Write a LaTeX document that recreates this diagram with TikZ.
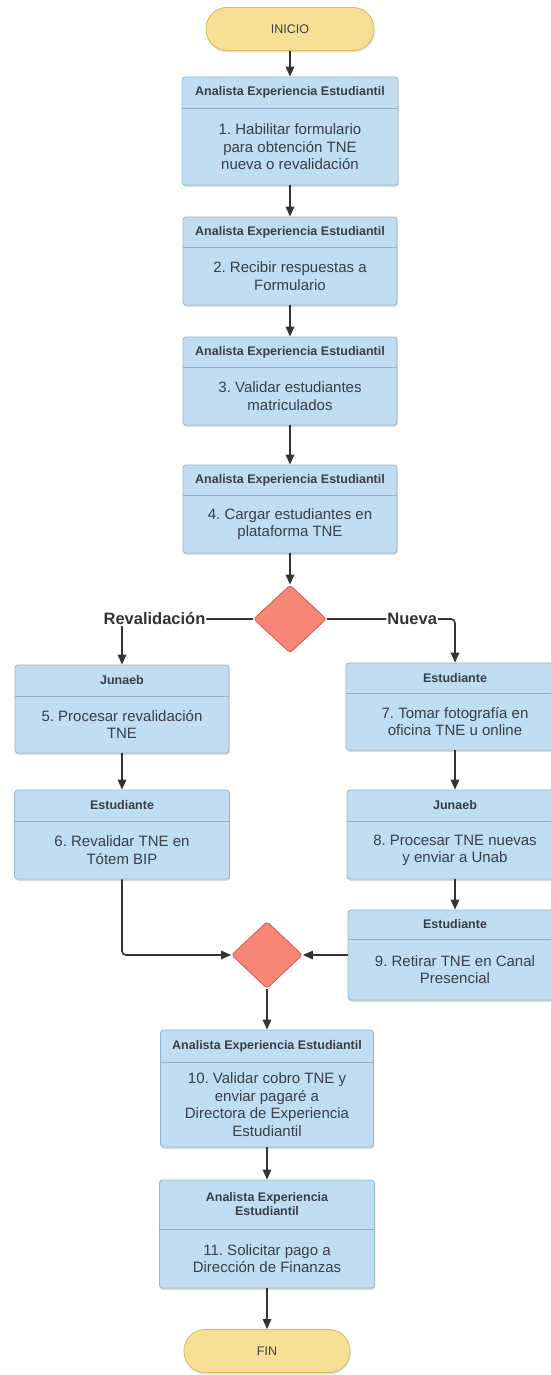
\documentclass[tikz,border=0pt]{standalone}
\usepackage{fontspec}
\setmainfont{Liberation Sans}
\frenchspacing
\usetikzlibrary{arrows.meta,shapes.geometric,shadows,calc}
\definecolor{boxfill}{RGB}{192,221,241}
\definecolor{boxline}{RGB}{150,182,208}
\definecolor{sepc}{RGB}{140,178,208}
\definecolor{decfill}{RGB}{248,134,118}
\definecolor{decline}{RGB}{205,92,82}
\definecolor{pillfill}{RGB}{247,224,150}
\definecolor{pillline}{RGB}{214,186,100}
\definecolor{arrc}{RGB}{51,51,51}
\definecolor{txtc}{RGB}{58,62,70}

\begin{document}
\begin{tikzpicture}[x=1pt,y=-1pt,
  procbox/.style={draw=boxline,fill=boxfill,rounded corners=3pt,line width=.8pt,
    drop shadow={shadow xshift=.6pt,shadow yshift=-1.8pt,opacity=.3}},
  hdrtxt/.style={text=txtc,font=\bfseries\fontsize{12.5}{14}\selectfont,align=center,inner sep=0pt},
  bodytxt/.style={text=txtc,font=\fontsize{15}{17.5}\selectfont,align=center,inner sep=0pt},
  sepline/.style={draw=sepc,line width=.8pt},
  decision/.style={diamond,draw=decline,fill=decfill,line width=.8pt,rounded corners=3pt,inner sep=0pt},
  pill/.style={draw=pillline,fill=pillfill,line width=.8pt,rounded corners=21pt,inner sep=0pt,
    text=txtc,font=\fontsize{12.5}{14}\selectfont,
    drop shadow={shadow xshift=.6pt,shadow yshift=-1.8pt,opacity=.25}},
  arr/.style={draw=arrc,line width=1.6pt,rounded corners=4pt,-{Triangle[length=10pt,width=8.5pt]}},
  branch/.style={fill=white,text=arrc,font=\bfseries\fontsize{16.5}{18}\selectfont,inner sep=1pt}]
\useasboundingbox (0,0) rectangle (551,1375);
\clip (0,0) rectangle (551,1375);

\node[pill,minimum width=168,minimum height=43] (inicio) at (290,29) {INICIO};

\foreach \n/\cx/\ya/\ys/\yb/\w/\hd/\bd in {
  1/290/77/108/185/216/Analista Experiencia Estudiantil/{1. Habilitar formulario\\para obtención TNE\\nueva o revalidación},
  2/290/217/247/305/214/Analista Experiencia Estudiantil/{2. Recibir respuestas a\\Formulario},
  3/290/337/367/425/214/Analista Experiencia Estudiantil/{3. Validar estudiantes\\matriculados},
  4/290/465/495/553/214/Analista Experiencia Estudiantil/{4. Cargar estudiantes en\\plataforma TNE},
  5/122/665/696/753/214/Junaeb/{5. Procesar revalidación\\TNE},
  6/122/790/821/879/215/Estudiante/{6. Revalidar TNE en\\Tótem BIP},
  7/455/663/693/750/218/Estudiante/{7. Tomar fotografía en\\oficina TNE u online},
  8/455/790/821/879/216/Junaeb/{8. Procesar TNE nuevas\\y enviar a Unab},
  9/455/910/939/1000/214/Estudiante/{9. Retirar TNE en Canal\\Presencial},
  10/267/1030/1062/1147/213/Analista Experiencia Estudiantil/{10. Validar cobro TNE y\\enviar pagaré a\\Directora de Experiencia\\Estudiantil},
  11/267/1180/1229/1288/215/{Analista Experiencia\\Estudiantil}/{11. Solicitar pago a\\Dirección de Finanzas}}
{
  \node[procbox,minimum width=\w,minimum height={\yb-\ya}] (b\n) at (\cx,{(\ya+\yb)/2}) {};
  \node[hdrtxt,minimum width=\w,minimum height={\ys-\ya},anchor=north] (h\n) at (b\n.north) {\hd};
  \draw[sepline] (h\n.south west) -- (h\n.south east);
  \node[bodytxt] (t\n) at ($(h\n.south)!.5!(b\n.south)$) {\bd};
}

\node[decision,minimum width=73,minimum height=68] (d1) at (290,619) {};
\node[decision,minimum width=71,minimum height=67] (d2) at (267,955) {};
\node[pill,minimum width=166,minimum height=43] (fin) at (267,1351) {FIN};

\draw[arr] (inicio) -- (b1);
\draw[arr] (b1) -- (b2);
\draw[arr] (b2) -- (b3);
\draw[arr] (b3) -- (b4);
\draw[arr] (b4) -- (d1);
\draw[arr] (d1.west) -| node[branch,pos=.376]{Revalidación} (b5.north);
\draw[arr] (d1.east) -| node[branch,pos=.333]{Nueva} (b7.north);
\draw[arr] (b5) -- (b6);
\draw[arr] (b7) -- (b8);
\draw[arr] (b8) -- (b9);
\draw[arr] (b6.south) |- (d2.west);
\draw[arr] (b9.west) -- (d2.east);
\draw[arr] (d2) -- (b10);
\draw[arr] (b10) -- (b11);
\draw[arr] (b11) -- (fin);
\end{tikzpicture}
\end{document}
